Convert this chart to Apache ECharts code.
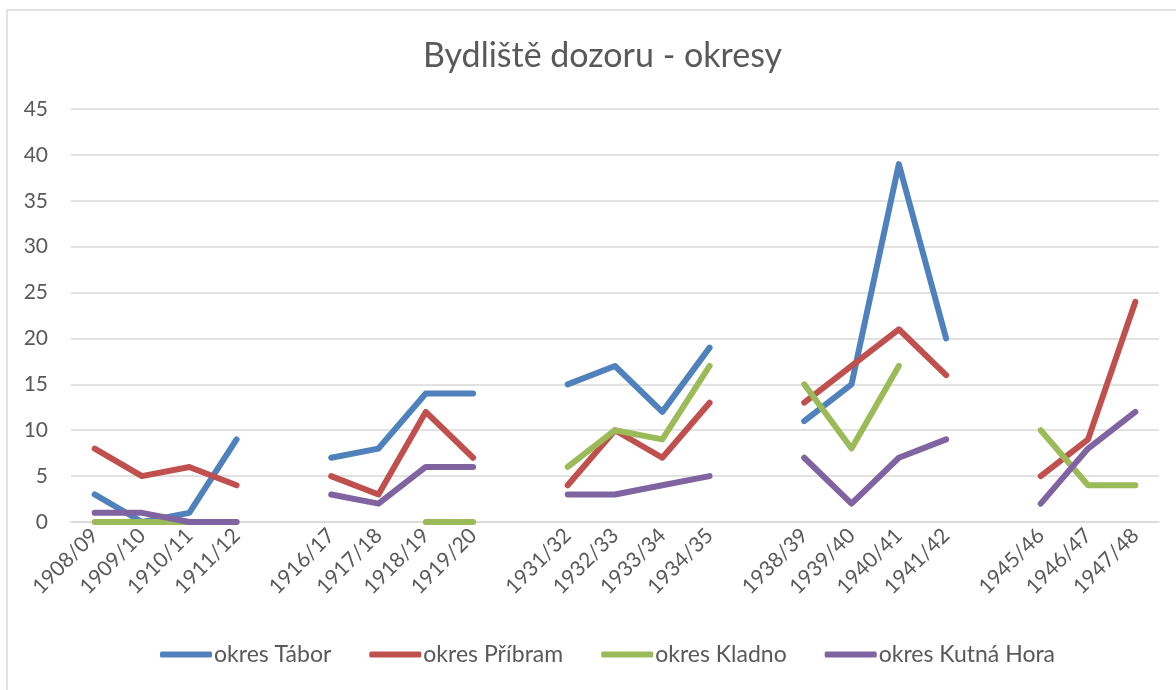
<!DOCTYPE html>
<html style="height: 100%">

<head>
    <meta charset="utf-8">
</head>

<body style="height: 100%; margin: 0; background: #fff">
    <div id="main" style="width: 1176px; height: 690px"></div>

    <script type="text/javascript" src="https://cdn.jsdelivr.net/npm/echarts@6.0.0/dist/echarts.min.js"></script>

    <script type="text/javascript">
        // school years, '' = empty slot between groups
        var years = ['1908/09', '1909/10', '1910/11', '1911/12', '',
            '1916/17', '1917/18', '1918/19', '1919/20', '',
            '1931/32', '1932/33', '1933/34', '1934/35', '',
            '1938/39', '1939/40', '1940/41', '1941/42', '',
            '1945/46', '1946/47', '1947/48'];

        var tabor = [3, 0, 1, 9, null, 7, 8, 14, 14, null, 15, 17, 12, 19, null, 11, 15, 39, 20, null, null, null, null];
        var pribram = [8, 5, 6, 4, null, 5, 3, 12, 7, null, 4, 10, 7, 13, null, 13, 17, 21, 16, null, 5, 9, 24];
        var kladno = [0, 0, 0, 0, null, null, null, 0, 0, null, 6, 10, 9, 17, null, 15, 8, 17, null, null, 10, 4, 4];
        var kutnaHora = [1, 1, 0, 0, null, 3, 2, 6, 6, null, 3, 3, 4, 5, null, 7, 2, 7, 9, null, 2, 8, 12];

        var seriesNames = ['okres Tábor', 'okres Příbram', 'okres Kladno', 'okres Kutná Hora'];
        var colors = ['#4F81BD', '#C0504D', '#9BBB59', '#8064A2'];

        var myChart = echarts.init(document.getElementById('main'));
        var font = 'Lato, "Open Sans", sans-serif';

        function makeLine(name, data) {
            return {
                name: name,
                type: 'line',
                data: data,
                symbol: 'none',
                connectNulls: false,
                lineStyle: { width: 6, cap: 'round', join: 'round' }
            };
        }

        var option = {
            animation: false,
            color: colors,
            textStyle: { fontFamily: font },
            title: {
                text: 'Bydliště dozoru - okresy',
                left: 418,
                top: 34,
                textStyle: {
                    fontFamily: font,
                    fontSize: 34,
                    fontWeight: 'normal',
                    color: '#595959'
                }
            },
            graphic: [{
                type: 'rect',
                shape: { x: 7, y: 10, width: 1200, height: 700 },
                style: { fill: 'none', stroke: '#d9d9d9', lineWidth: 1.5 },
                silent: true
            }],
            legend: {
                data: seriesNames,
                bottom: 19,
                left: 155,
                icon: 'roundRect',
                itemWidth: 52,
                itemHeight: 6,
                itemGap: 38,
                textStyle: {
                    fontFamily: font,
                    fontSize: 23,
                    color: '#595959',
                    padding: [0, 0, 0, -3]
                }
            },
            grid: {
                left: 71,
                right: 17,
                top: 109,
                bottom: 168,
                containLabel: false
            },
            xAxis: {
                type: 'category',
                data: years,
                boundaryGap: true,
                axisTick: { show: false },
                axisLine: { lineStyle: { color: '#d9d9d9', width: 1.5 } },
                axisLabel: {
                    interval: 0,
                    rotate: 45,
                    margin: 10,
                    fontFamily: font,
                    fontSize: 21,
                    color: '#595959'
                }
            },
            yAxis: {
                type: 'value',
                min: 0,
                max: 45,
                interval: 5,
                axisLine: { show: false },
                axisTick: { show: false },
                splitLine: { lineStyle: { color: '#d9d9d9', width: 1.5 } },
                axisLabel: {
                    margin: 23,
                    fontFamily: font,
                    fontSize: 21,
                    color: '#595959'
                }
            },
            series: [
                makeLine(seriesNames[0], tabor),
                makeLine(seriesNames[1], pribram),
                makeLine(seriesNames[2], kladno),
                makeLine(seriesNames[3], kutnaHora)
            ]
        };

        if (option && typeof option === 'object') {
            myChart.setOption(option);
        }
    </script>
</body>

</html>
